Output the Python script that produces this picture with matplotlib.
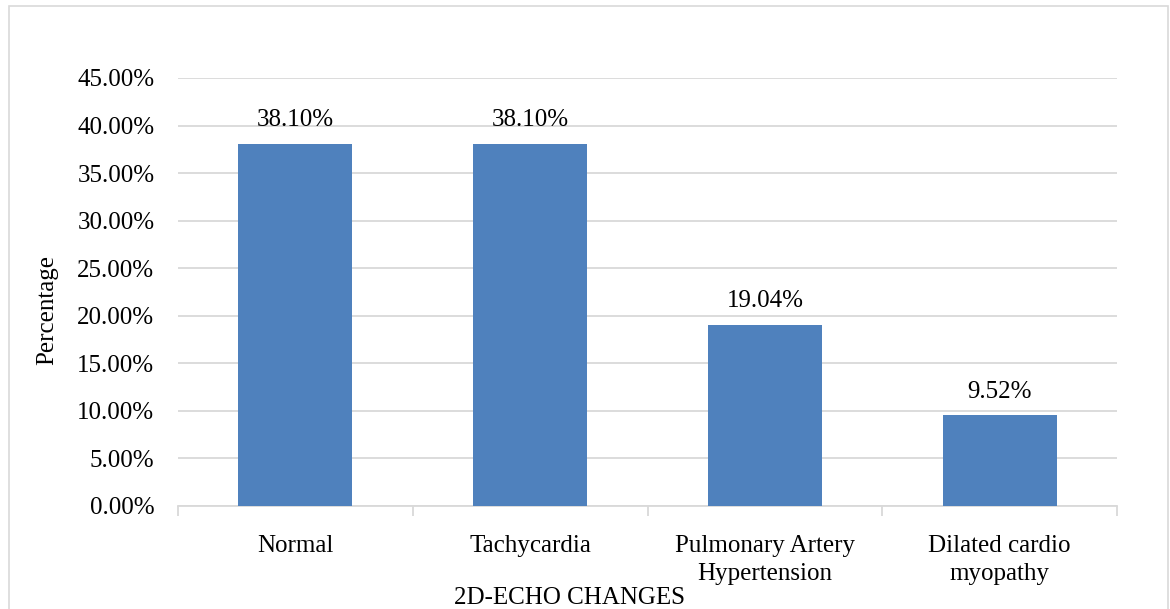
import matplotlib
matplotlib.use("Agg")
import matplotlib.pyplot as plt
from matplotlib.patches import Rectangle

categories = ["Normal", "Tachycardia", "Pulmonary Artery\nHypertension", "Dilated cardio\nmyopathy"]
values = [38.10, 38.10, 19.04, 9.52]
value_labels = ["38.10%", "38.10%", "19.04%", "9.52%"]
yticks = [0, 5, 10, 15, 20, 25, 30, 35, 40, 45]

plt.rcParams["font.family"] = ["Liberation Serif", "DejaVu Serif"]
FS = 18
W, H = 1170, 609
fig = plt.figure(figsize=(W / 100, H / 100), dpi=100)
fig.patch.set_facecolor("white")

# outer chart border
fig.add_artist(Rectangle((9 / W, -0.05), 1159 / W, 1.05 - 6 / H, transform=fig.transFigure,
                         fill=False, edgecolor="#d9d9d9", linewidth=1.2))

ax = fig.add_axes([178 / W, 1 - 506 / H, (1117 - 178) / W, (506 - 78) / H])
x = list(range(len(categories)))
ax.bar(x, values, width=0.485, color="#4f81bd", zorder=3)
for xi, v, lab in zip(x, values, value_labels):
    ax.annotate(lab, (xi, v), xytext=(0, 9), textcoords="offset points",
                ha="center", va="bottom", fontsize=FS, color="#000000")

ax.set_xlim(-0.5, len(categories) - 0.5)
ax.set_ylim(0, 45)
ax.set_yticks(yticks)
ax.set_yticklabels([f"{t:.2f}%" for t in yticks], fontsize=FS)
ax.yaxis.grid(True, color="#d9d9d9", linewidth=1.3, zorder=0)
ax.set_axisbelow(True)
for s in ["top", "right", "left"]:
    ax.spines[s].set_visible(False)
ax.spines["bottom"].set_color("#d9d9d9")
ax.spines["bottom"].set_linewidth(1.3)
ax.tick_params(axis="y", length=0, pad=17)

# category labels centred under bars, boundary ticks between categories
ax.set_xticks(x)
ax.set_xticklabels(categories, fontsize=FS, linespacing=1.33)
ax.tick_params(axis="x", length=0, pad=21)
ax.set_xticks([i - 0.5 for i in range(len(categories) + 1)], minor=True)
ax.tick_params(axis="x", which="minor", length=7, width=1.3, color="#d9d9d9")

fig.text(47 / W, 1 - 310 / H, "Percentage", rotation=90, ha="center", va="center", fontsize=FS)
fig.text(569 / W, 1 - 598 / H, "2D-ECHO CHANGES", ha="center", va="center", fontsize=FS)

fig.savefig("out.png", dpi=100, facecolor="white")
